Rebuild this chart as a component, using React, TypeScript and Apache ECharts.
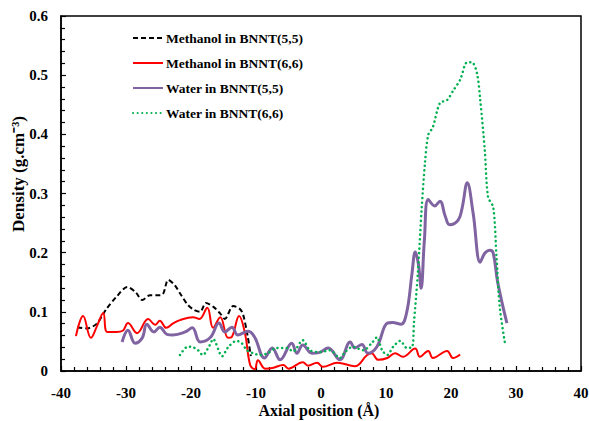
import React, { useEffect, useRef } from "react";
import * as echarts from "echarts";

const methanol55: [number, number][] = [
  [-37.5, 0.074], [-36, 0.072], [-34.5, 0.08], [-33, 0.105], [-31.5, 0.125],
  [-29.8, 0.142], [-28.5, 0.133], [-27.5, 0.12], [-26.3, 0.128], [-25, 0.128],
  [-24.3, 0.13], [-23.5, 0.154], [-22.5, 0.145], [-21.5, 0.128], [-20.5, 0.112],
  [-19.5, 0.103], [-18.6, 0.1], [-17.7, 0.115], [-16.5, 0.108], [-15.5, 0.097],
  [-14.8, 0.088], [-13.5, 0.11], [-12.5, 0.105], [-12, 0.096], [-11.3, 0.06],
  [-10.8, 0.025],
];

const methanol66: [number, number][] = [
  [-37.7, 0.059], [-36.6, 0.093], [-35.4, 0.056], [-34.5, 0.075], [-33.5, 0.098],
  [-32.9, 0.066], [-31.5, 0.066], [-30.5, 0.068], [-29.7, 0.081], [-28.3, 0.064],
  [-26.6, 0.088], [-25.5, 0.078], [-24.8, 0.085], [-23.8, 0.073], [-22.8, 0.08],
  [-21.7, 0.086], [-19.7, 0.091], [-18.7, 0.088], [-17.5, 0.107], [-16.6, 0.073],
  [-15.5, 0.091], [-14.3, 0.056], [-13.7, 0.058], [-12.6, 0.093], [-11.7, 0.064],
  [-10.9, 0.01], [-10.2, 0.003], [-9.7, 0.018], [-8.6, 0.004], [-7.5, 0.005],
  [-5.8, 0.01], [-5.0, 0.004], [-2.8, 0.015], [-2.0, 0.009], [-0.6, 0.014],
  [0.3, 0.007], [2.5, 0.014], [5.2, 0.008], [7.1, 0.027], [7.8, 0.03],
  [8.8, 0.019], [10.2, 0.022], [11.4, 0.03], [12.6, 0.024], [14.5, 0.038],
  [15.2, 0.024], [16.5, 0.034], [17.2, 0.022], [19.4, 0.034], [20.3, 0.022],
  [21.4, 0.028],
];

const water55: [number, number][] = [
  [-30.6, 0.049], [-29.7, 0.069], [-28.6, 0.047], [-27.5, 0.056], [-26.8, 0.079],
  [-25.7, 0.066], [-24.8, 0.074], [-23.7, 0.062], [-22.8, 0.061], [-20.9, 0.066],
  [-19.8, 0.073], [-18.6, 0.049], [-17, 0.057], [-15.7, 0.081], [-14.8, 0.066],
  [-13.7, 0.074], [-12.8, 0.061], [-11.2, 0.067], [-10.2, 0.057], [-8.7, 0.022],
  [-7.5, 0.039], [-6.3, 0.019], [-4.5, 0.047], [-3.7, 0.03], [-2.8, 0.044],
  [-1.4, 0.03], [-0.3, 0.031], [1.1, 0.039], [2.9, 0.019], [4.5, 0.049],
  [5.2, 0.039], [6.3, 0.045], [7.2, 0.03], [8.6, 0.041], [10.2, 0.081],
  [11.0, 0.082], [12.3, 0.079], [13.2, 0.1], [14.0, 0.165], [14.5, 0.201],
  [15.0, 0.18], [15.4, 0.14], [15.9, 0.22], [16.5, 0.29], [17.5, 0.279],
  [18.3, 0.287], [19.1, 0.262], [19.8, 0.247], [21.1, 0.255], [21.7, 0.275],
  [22.5, 0.318], [23.4, 0.267], [24.5, 0.184], [25.2, 0.199], [26.0, 0.204],
  [26.5, 0.199], [27.2, 0.149], [28.6, 0.081],
];

const water66: [number, number][] = [
  [-21.7, 0.027], [-20.5, 0.041], [-19.7, 0.04], [-18.9, 0.035], [-18.2, 0.027],
  [-17.1, 0.044], [-16.6, 0.054], [-15.2, 0.025], [-14.3, 0.04], [-13, 0.051],
  [-12.2, 0.047], [-11.4, 0.035], [-10.4, 0.03], [-9.4, 0.027], [-8.2, 0.03],
  [-6.8, 0.039], [-5.2, 0.039], [-4.3, 0.033], [-2.8, 0.052], [-1.7, 0.035],
  [-0.2, 0.032], [1.4, 0.035], [2.9, 0.022], [3.7, 0.032], [4.9, 0.041],
  [6.5, 0.035], [7.8, 0.047], [8.6, 0.057], [9.4, 0.035], [10.2, 0.027],
  [11.1, 0.041], [12.2, 0.051], [13.2, 0.039], [14.0, 0.04], [14.3, 0.081],
  [14.9, 0.165], [15.5, 0.277], [16.0, 0.352], [16.5, 0.399], [17.2, 0.412],
  [18.3, 0.453], [19.4, 0.458], [20.4, 0.475], [21.4, 0.492], [22.5, 0.522],
  [23.2, 0.522], [24.0, 0.503], [24.5, 0.458], [25.2, 0.373], [25.7, 0.294],
  [26.5, 0.277], [27.0, 0.193], [27.5, 0.108], [28.3, 0.047],
];

const seriesNames = [
  "Methanol in BNNT(5,5)",
  "Methanol in BNNT(6,6)",
  "Water in BNNT(5,5)",
  "Water in BNNT(6,6)",
];

const xAxisName = "Axial position (Å)";
const yAxisName = "Density (g.cm⁻³)";

const FONT = "'Liberation Serif', 'Times New Roman', serif";

export default function App() {
  const ref = useRef<HTMLDivElement>(null);
  useEffect(() => {
    if (!ref.current) return;
    const chart = echarts.init(ref.current, undefined, { renderer: "svg" });
    const axisCommon = {
      axisLine: { show: true, onZero: false, lineStyle: { color: "#000", width: 1.5 } },
      axisTick: { show: true, inside: true, length: 5, lineStyle: { color: "#000", width: 1.2 } },
      minorTick: { show: true, splitNumber: 5, length: 4, lineStyle: { color: "#000", width: 1.2 } },
      splitLine: { show: false },
      minorSplitLine: { show: false },
      axisLabel: { color: "#000", fontFamily: FONT, fontWeight: "bold", fontSize: 15 },
    };
    const titleStyle = {
      fontFamily: FONT,
      fontWeight: "bold",
      fill: "#000",
      align: "center",
      verticalAlign: "middle",
    };
    chart.setOption({
      animation: false,
      backgroundColor: "#fff",
      grid: {
        left: 61, right: 8, top: 16, bottom: 50,
        containLabel: false,
        outerBoundsMode: "none",
        show: true, borderColor: "#000", borderWidth: 1.5, backgroundColor: "transparent",
      },
      legend: {
        orient: "vertical",
        left: 132,
        top: 31,
        itemWidth: 30,
        itemHeight: 12,
        itemGap: 11,
        padding: 0,
        data: seriesNames,
        itemStyle: { opacity: 0 },
        textStyle: { color: "#000", fontFamily: FONT, fontWeight: "bold", fontSize: 13.5, padding: [0, 0, 0, -2] },
      },
      graphic: [
        {
          type: "text",
          x: 18,
          y: 174,
          rotation: Math.PI / 2,
          style: { ...titleStyle, text: yAxisName, fontSize: 17 },
        },
        {
          type: "text",
          x: 319,
          y: 410,
          style: { ...titleStyle, text: xAxisName, fontSize: 16 },
        },
      ],
      xAxis: {
        ...axisCommon,
        type: "value",
        min: -40,
        max: 40,
        interval: 10,
        axisLabel: { ...axisCommon.axisLabel, margin: 14 },
      },
      yAxis: {
        ...axisCommon,
        type: "value",
        min: 0,
        max: 0.6,
        interval: 0.1,
        axisLabel: {
          ...axisCommon.axisLabel,
          margin: 13,
          formatter: (v: number) => (v === 0 ? "0" : v.toFixed(1)),
        },
      },
      series: [
        {
          name: seriesNames[0], type: "line", data: methanol55, symbol: "none", smooth: 0.3,
          lineStyle: { color: "#000", width: 2, type: [5, 3] }, itemStyle: { color: "#000" },
        },
        {
          name: seriesNames[1], type: "line", data: methanol66, symbol: "none", smooth: 0.4,
          lineStyle: { color: "#ff0000", width: 2 }, itemStyle: { color: "#ff0000" },
        },
        {
          name: seriesNames[2], type: "line", data: water55, symbol: "none", smooth: 0.4,
          lineStyle: { color: "#8064A2", width: 3 }, itemStyle: { color: "#8064A2" },
        },
        {
          name: seriesNames[3], type: "line", data: water66, symbol: "none", smooth: 0.3,
          lineStyle: { color: "#00B050", width: 2.5, type: [0.1, 4.5], cap: "round" }, itemStyle: { color: "#00B050" },
        },
      ],
    });
    return () => chart.dispose();
  }, []);
  return <div ref={ref} style={{ width: 589, height: 421, position: "absolute", left: 0, top: 0 }} />;
}
